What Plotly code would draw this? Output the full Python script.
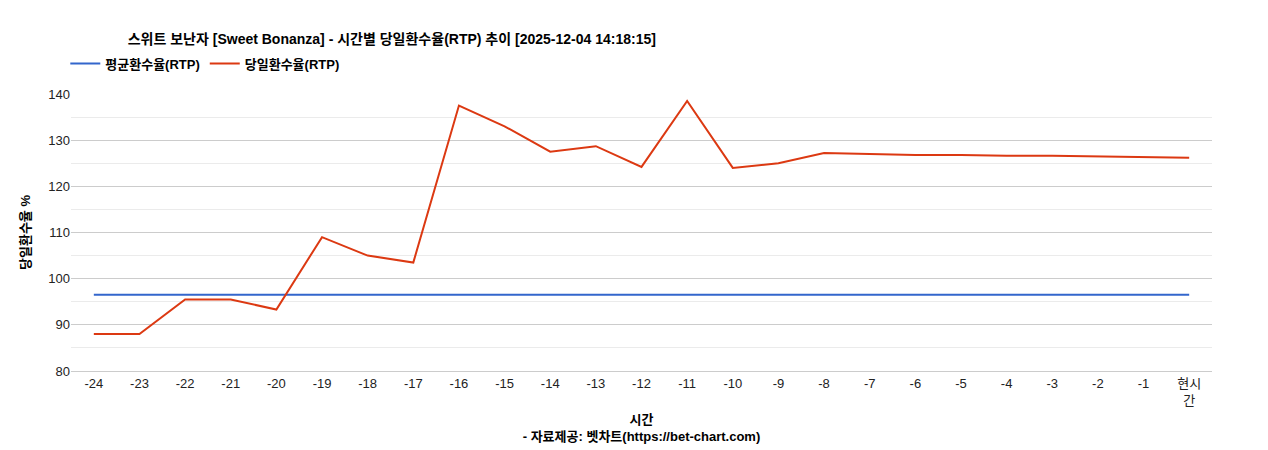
import plotly.graph_objects as go

hours = [str(h) for h in range(-24, 0)] + ["현시<br>간"]
avg_rtp = [96.5] * 25
daily_rtp = [88, 88, 95.5, 95.5, 93.3, 109, 105, 103.5, 137.5, 133, 127.5, 128.7, 124.2,
             138.5, 124, 125, 127.2, 127, 126.8, 126.8, 126.6, 126.6, 126.5, 126.4, 126.2]

FONT = "Liberation Sans, Noto Sans CJK KR, sans-serif"
xs = list(range(len(hours)))

fig = go.Figure()
fig.add_trace(go.Scatter(x=xs, y=avg_rtp, mode="lines", name="<b>평균환수율(RTP)</b>",
                         line=dict(color="#3366cc", width=2)))
fig.add_trace(go.Scatter(x=xs, y=daily_rtp, mode="lines", name="<b>당일환수율(RTP)</b>",
                         line=dict(color="#dc3912", width=2)))

fig.update_layout(
    width=1268, height=450,
    paper_bgcolor="white", plot_bgcolor="white",
    font=dict(family=FONT, size=13, color="#222"),
    margin=dict(l=63, r=64, t=86, b=87, autoexpand=False),
    title=dict(text="<b>스위트 보난자 [Sweet Bonanza] - 시간별 당일환수율(RTP) 추이 [2025-12-04 14:18:15]</b>",
               x=63 / 1268, xref="paper", xanchor="left", y=1 - 31 / 450, yanchor="middle",
               font=dict(size=14, color="#000")),
    legend=dict(orientation="h", x=-0.005, xanchor="left", y=1.11, yanchor="middle",
                font=dict(size=13, color="#000")),
    showlegend=True,
    xaxis=dict(range=[-0.5, len(hours) - 0.5], tickmode="array", tickvals=xs, ticktext=hours,
               showgrid=False, zeroline=False, ticks="", showline=True, linecolor="#ccc",
               tickfont=dict(size=13, color="#222"),
               title=dict(text="<b>시간</b><br><b>- 자료제공: 벳차트(https://bet-chart.com)</b>",
                          font=dict(size=13, color="#000"), standoff=8)),
    yaxis=dict(range=[80, 140], dtick=10, showgrid=True, gridcolor="#cccccc",
               zeroline=False, tickfont=dict(size=13, color="#222"),
               minor=dict(dtick=5, showgrid=True, gridcolor="#ebebeb"),
               title=dict(text="<b>당일환수율 %</b>", font=dict(size=13, color="#000"), standoff=14)),
)

fig.write_html("out.html")
